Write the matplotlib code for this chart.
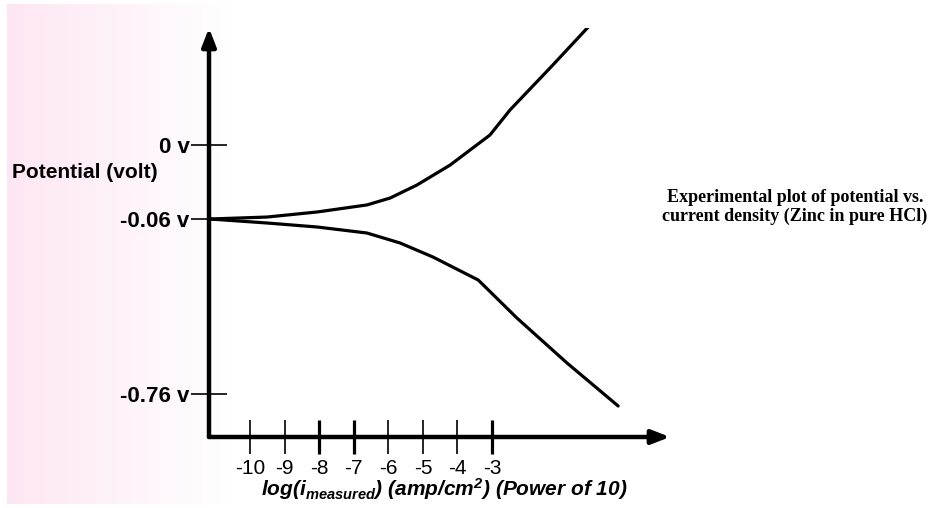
import numpy as np
import matplotlib
matplotlib.use('Agg')
import matplotlib.pyplot as plt

plt.rcParams['font.family'] = 'Liberation Sans'
plt.rcParams['mathtext.fontset'] = 'custom'
plt.rcParams['mathtext.rm'] = 'Liberation Sans:italic:bold'
plt.rcParams['mathtext.it'] = 'Liberation Sans:italic:bold'

# log10 of measured current density (amp/cm2) and potential (volt)
anodic_logi = [-11.16, -9.51, -8.06, -6.62, -5.95, -5.17, -4.21, -3.06, -2.48, -1.24, -0.08]
anodic_v = [-0.06, -0.0584, -0.0543, -0.0486, -0.0430, -0.0324, -0.0162, 0.0081, 0.0284, 0.0649, 0.0998]
cathodic_logi = [-11.16, -9.51, -8.06, -6.62, -5.66, -4.71, -3.40, -2.28, -0.83, 0.65]
cathodic_v = [-0.06, -0.076, -0.092, -0.116, -0.156, -0.212, -0.304, -0.456, -0.636, -0.808]

x_ticks = [-10, -9, -8, -7, -6, -5, -4, -3]
bold_x_ticks = [-8, -7, -3]
y_ticks = [0, -0.06, -0.76]
y_tick_labels = ['0 v', '-0.06 v', '-0.76 v']

# the potential axis is drawn schematically (not to scale)
v_knots = [-2.0, -0.76, -0.06, 0.0, 1.0]
pos_knots = [-704.0, -394.0, -219.0, -145.0, 1088.0]


def v_forward(v):
    return np.interp(v, v_knots, pos_knots)


def v_inverse(p):
    return np.interp(p, pos_knots, v_knots)


W, H = 935, 508
fig = plt.figure(figsize=(W / 100, H / 100), dpi=100)

# pink fade on the left
bg = fig.add_axes([7 / W, 4 / H, 222 / W, 500 / H])
t = np.linspace(0, 1, 256)
pink = np.array([253, 230, 243]) / 255
grad = pink[None, :] * (1 - t[:, None]) + t[:, None]
bg.imshow(grad[None, :, :], aspect='auto', extent=[0, 1, 0, 1])
bg.axis('off')
bg.set_zorder(0)

ax = fig.add_axes([209 / W, (H - 437) / H, (670 - 209) / W, (437 - 28) / H])
ax.set_zorder(1)
ax.patch.set_visible(False)
ax.set_yscale('function', functions=(v_forward, v_inverse))
ax.set_xlim(-11.19, 2.15)
ax.set_ylim(-0.932, 0.0949)

ax.plot(anodic_logi, anodic_v, color='black', lw=2.3, solid_capstyle='round', solid_joinstyle='round')
ax.plot(cathodic_logi, cathodic_v, color='black', lw=2.3, solid_capstyle='round', solid_joinstyle='round')

for s in ax.spines.values():
    s.set_visible(False)

x0, x1 = ax.get_xlim()
y0, y1 = ax.get_ylim()
arrow = dict(arrowstyle='-|>,head_length=0.9,head_width=0.35', lw=3.2, color='black',
             shrinkA=0, shrinkB=0, mutation_scale=12)
ax.annotate('', xy=(x1, y0), xytext=(x0, y0), arrowprops=arrow, annotation_clip=False)
ax.annotate('', xy=(x0, y1), xytext=(x0, y0), arrowprops=arrow, annotation_clip=False)

ax.set_xticks(x_ticks)
ax.set_xticklabels([str(v) for v in x_ticks])
ax.set_yticks(y_ticks)
ax.set_yticklabels(y_tick_labels)
ax.minorticks_off()
ax.tick_params(axis='x', direction='inout', length=25, width=1.2, pad=3, labelsize=15)
ax.tick_params(axis='y', direction='inout', length=26, width=1.2, pad=1, labelsize=16)
for lab in ax.get_yticklabels():
    lab.set_fontweight('bold')
for tk, v in zip(ax.xaxis.get_major_ticks(), x_ticks):
    if v in bold_x_ticks:
        tk.tick1line.set_markeredgewidth(2.3)

fig.text(12 / W, 1 - 172 / H, 'Potential (volt)', ha='left', va='center', fontsize=15, fontweight='bold')
fig.text(444 / W, 1 - 489 / H, r'log(i$_{\mathrm{measured}}$) (amp/cm$^{\mathrm{2}}$) (Power of 10)',
         ha='center', va='center', fontsize=15, fontweight='bold', style='italic')
fig.text(795 / W, 1 - 207 / H, 'Experimental plot of potential vs.\ncurrent density (Zinc in pure HCl)',
         ha='center', va='center', family='Liberation Serif', fontweight='bold', fontsize=13,
         linespacing=1.2)

fig.savefig('out.png', dpi=100)
